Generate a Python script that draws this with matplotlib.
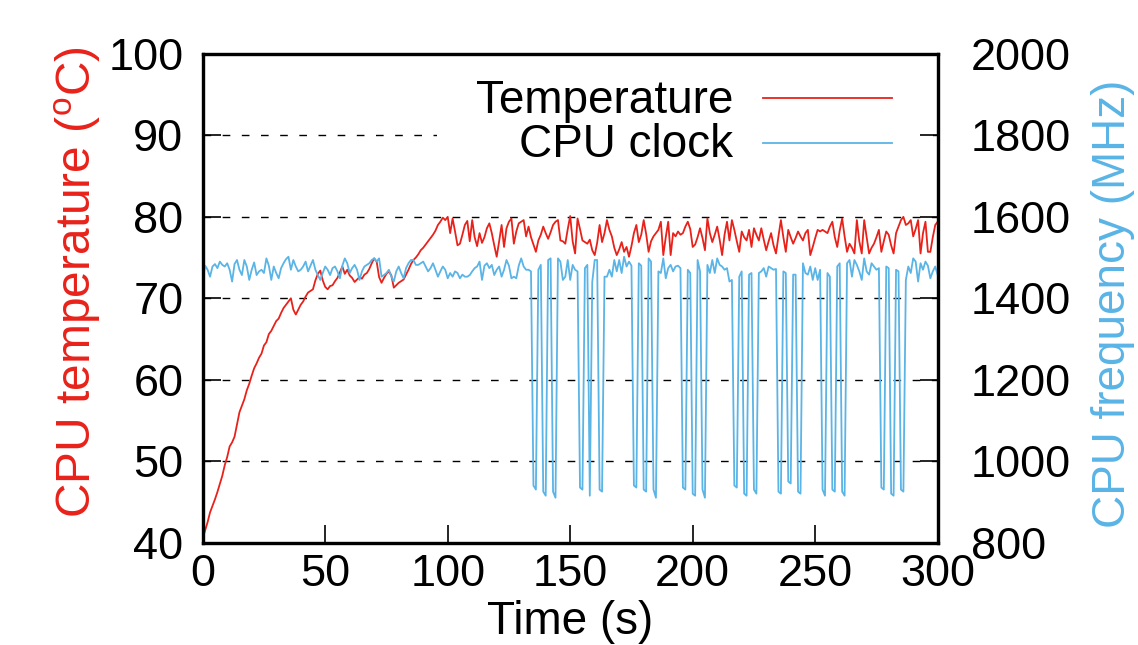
import numpy as np
import matplotlib
matplotlib.use("Agg")
import matplotlib.pyplot as plt
from matplotlib.patches import Rectangle
from matplotlib.lines import Line2D

plt.rcParams['font.family'] = ['Liberation Sans', 'DejaVu Sans']
plt.rcParams['mathtext.fontset'] = 'custom'
plt.rcParams['mathtext.rm'] = 'Liberation Sans'

# ---------------- data (1 sample per second, t = 0 .. 300 s) ----------------
temperature = [
    40.5, 41.5, 42.5, 43.7, 44.5, 45.3, 46.2, 47.2, 48.2, 49.5,
    50.5, 51.8, 52.3, 53.0, 54.5, 56.0, 56.8, 57.6, 58.7, 59.5,
    60.5, 61.4, 62.0, 62.7, 63.2, 64.2, 64.6, 65.6, 66.0, 66.6,
    67.2, 67.5, 68.2, 68.8, 69.2, 69.6, 70.0, 68.6, 68.0, 68.6,
    69.2, 69.6, 70.2, 70.7, 70.9, 71.1, 72.2, 73.0, 73.4, 72.2,
    71.4, 71.1, 71.5, 71.6, 72.1, 72.5, 73.2, 73.9, 73.0, 73.5,
    72.8, 72.5, 72.0, 72.3, 72.6, 72.4, 72.9, 73.1, 73.6, 74.3,
    74.9, 74.5, 72.6, 71.9, 72.5, 73.0, 73.3, 72.8, 71.3, 71.6,
    71.9, 72.1, 72.3, 72.9, 73.5, 74.2, 74.7, 75.0, 75.4, 75.9,
    76.2, 76.6, 77.0, 77.4, 77.8, 78.3, 79.0, 79.4, 79.9, 79.6,
    80.0, 78.0, 79.8, 78.2, 76.5, 76.7, 77.8, 79.0, 79.5, 77.0,
    79.6, 77.5, 76.4, 78.0, 76.8, 77.5, 78.6, 79.2, 78.0, 76.5,
    75.1, 77.0, 79.0, 76.3, 78.6, 79.4, 79.8, 76.7, 78.2, 79.2,
    79.4, 79.6, 77.6, 78.8, 77.5, 76.6, 75.7, 77.1, 77.8, 78.8,
    78.0, 77.3, 78.1, 79.0, 79.4, 79.6, 77.1, 77.0, 76.7, 78.5,
    80.1, 77.0, 75.5, 79.8, 78.5, 77.1, 76.9, 76.7, 77.2, 75.9,
    75.3, 76.8, 79.0, 76.9, 78.0, 79.6, 78.4, 77.6, 76.2, 75.3,
    76.0, 76.9, 75.7, 76.3, 75.1, 76.4, 78.0, 79.0, 76.9, 77.8,
    79.6, 77.9, 75.7, 77.0, 77.6, 78.0, 78.4, 79.4, 75.3, 77.5,
    79.4, 75.3, 78.0, 77.6, 78.2, 77.8, 78.0, 78.8, 79.4, 78.5,
    76.3, 76.6, 77.5, 78.6, 77.4, 75.9, 79.8, 78.0, 76.9, 77.8,
    78.8, 77.2, 75.3, 77.8, 79.4, 77.1, 79.6, 78.4, 77.0, 75.7,
    78.2, 77.5, 77.1, 78.4, 76.3, 78.6, 77.8, 77.1, 78.6, 77.2,
    75.9, 77.0, 78.0, 76.5, 75.5, 77.6, 79.6, 77.5, 75.7, 78.4,
    77.5, 76.7, 77.4, 78.2, 77.6, 77.1, 78.0, 78.4, 75.3, 76.3,
    77.4, 78.4, 78.2, 78.4, 78.2, 78.0, 78.8, 79.4, 77.5, 76.3,
    78.3, 79.8, 77.6, 75.7, 76.7, 76.2, 75.5, 79.6, 77.0, 75.5,
    79.6, 77.5, 75.5, 76.2, 76.7, 77.5, 78.4, 75.7, 77.0, 78.2,
    77.8, 76.5, 75.5, 78.0, 78.8, 79.6, 80.0, 79.0, 79.2, 79.6,
    77.6, 78.5, 79.6, 75.5, 78.0, 79.4, 75.7, 75.7, 77.5, 79.0,
    79.4,
]

cpu_clock = [
    1445, 1480, 1470, 1453, 1478, 1484, 1474, 1490, 1482, 1478,
    1486, 1470, 1441, 1484, 1494, 1470, 1457, 1494, 1478, 1445,
    1470, 1488, 1457, 1466, 1470, 1462, 1498, 1480, 1445, 1478,
    1462, 1449, 1474, 1486, 1496, 1502, 1470, 1494, 1478, 1466,
    1470, 1478, 1490, 1466, 1480, 1494, 1470, 1457, 1445, 1462,
    1478, 1470, 1457, 1474, 1478, 1466, 1449, 1480, 1498, 1486,
    1462, 1474, 1482, 1470, 1445, 1466, 1478, 1482, 1486, 1494,
    1498, 1490, 1498, 1453, 1457, 1462, 1470, 1453, 1441, 1466,
    1478, 1462, 1449, 1474, 1486, 1494, 1494, 1482, 1482, 1486,
    1490, 1478, 1466, 1474, 1486, 1470, 1453, 1466, 1478, 1470,
    1449, 1462, 1453, 1466, 1462, 1449, 1458, 1453, 1453, 1457,
    1466, 1474, 1478, 1490, 1445, 1480, 1486, 1474, 1482, 1457,
    1470, 1478, 1453, 1470, 1494, 1480, 1449, 1453, 1449, 1480,
    1498, 1478, 1470, 1470, 1466, 940, 930, 1470, 1482, 925,
    915, 1494, 1498, 925, 910, 1498, 1490, 1445, 1453, 1494,
    1445, 1482, 1470, 1466, 935, 930, 1474, 1482, 915, 1440,
    1494, 1494, 930, 925, 1453, 1453, 1470, 1453, 1494, 1466,
    1494, 1462, 1502, 1478, 1490, 1480, 940, 935, 1486, 1480,
    930, 925, 1498, 1490, 930, 910, 1466, 1462, 1498, 1449,
    1474, 1482, 1466, 1478, 1480, 1474, 935, 930, 1470, 1462,
    920, 915, 1494, 1466, 930, 910, 1482, 1462, 1494, 1462,
    1498, 1482, 1478, 1470, 1474, 1441, 1445, 940, 935, 1453,
    1466, 920, 915, 1458, 1462, 930, 920, 1462, 1466, 1474,
    1453, 1478, 1474, 1470, 1472, 925, 920, 1466, 1462, 950,
    945, 1458, 1458, 925, 920, 1486, 1462, 1458, 1478, 1445,
    1474, 1445, 1470, 930, 915, 1462, 1453, 930, 925, 1478,
    1486, 925, 915, 1486, 1494, 1453, 1494, 1482, 1466, 1445,
    1498, 1466, 1458, 1486, 1478, 1470, 1474, 935, 930, 1478,
    1474, 920, 915, 1470, 1466, 930, 925, 1445, 1478, 1462,
    1498, 1490, 1441, 1486, 1470, 1490, 1480, 1449, 1466, 1478,
    1457,
]

time_s = np.arange(len(temperature))  # one sample per second

x_ticks = [0, 50, 100, 150, 200, 250, 300]
temp_ticks = [40, 50, 60, 70, 80, 90, 100]
freq_ticks = [800, 1000, 1200, 1400, 1600, 1800, 2000]

labels = ["Temperature", "CPU clock"]
RED = '#e8221a'
BLUE = '#5ab4e6'

# ---------------- figure ----------------
fig = plt.figure(figsize=(11.38, 6.45), dpi=100)
ax = fig.add_axes([0.17812, 0.15891, 0.64587, 0.75736])
ax2 = ax.twinx()

ax.plot(time_s, temperature, color=RED, lw=1.3, zorder=2)
ax2.plot(time_s, cpu_clock, color=BLUE, lw=1.3, zorder=2)

ax.set_xlim(x_ticks[0], x_ticks[-1])
ax.set_ylim(temp_ticks[0], temp_ticks[-1])
ax2.set_ylim(freq_ticks[0], freq_ticks[-1])
ax.set_xticks(x_ticks)
ax.set_yticks(temp_ticks)
ax2.set_yticks(freq_ticks)

FS_TICK = 32.5
FS_LAB = 33

ax.tick_params(axis='x', direction='in', length=13, width=1.2, labelsize=FS_TICK,
               pad=8, top=False)
ax.tick_params(axis='y', direction='in', length=13, width=1.2, labelsize=FS_TICK,
               pad=14, right=False)
ax2.tick_params(axis='y', direction='in', length=13, width=1.2, labelsize=FS_TICK,
                pad=24, left=False, right=True)

for sp in ax.spines.values():
    sp.set_linewidth(2.3)
for sp in ax2.spines.values():
    sp.set_linewidth(2.3)

ax.yaxis.grid(True, color='black', linestyle=(0, (5.5, 8.3)), linewidth=1.0)
ax.set_axisbelow(True)

ax.set_xlabel('Time (s)', fontsize=FS_LAB)
ax.xaxis.set_label_coords(0.5, -0.118)
ax.set_ylabel(r'CPU temperature ($^{\mathrm{o}}$C)', fontsize=34.5, color=RED)
ax.yaxis.set_label_coords(-0.136, 0.533)
ax2.set_ylabel('CPU frequency (MHz)', fontsize=FS_LAB, color=BLUE)
ax2.yaxis.set_label_coords(1.209, 0.488)

# legend in gnuplot style: right-aligned text followed by line sample,
# drawn over an opaque white box that hides the grid behind it
ax2.add_patch(Rectangle((0.319, 0.78), 0.675, 0.2, transform=ax2.transAxes,
                        facecolor='white', edgecolor='none', zorder=1))
leg_y_text = [0.8798, 0.7897]
leg_y_line = [0.9105, 0.8186]
for lab, col, yt, yl in zip(labels, [RED, BLUE], leg_y_text, leg_y_line):
    ax2.text(0.7222, yt, lab, transform=ax2.transAxes, ha='right', va='baseline',
             fontsize=FS_LAB, zorder=3)
    ax2.add_line(Line2D([0.7623, 0.9378], [yl, yl], transform=ax2.transAxes,
                        color=col, lw=1.3, zorder=3))

fig.savefig('out.png', dpi=100)
